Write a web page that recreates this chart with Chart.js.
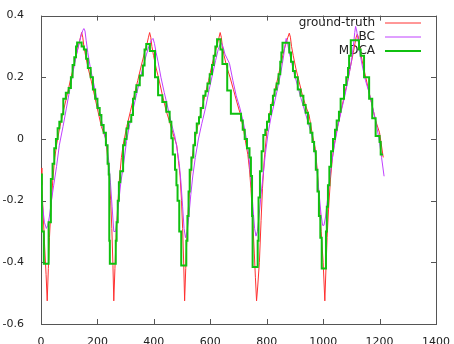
<!DOCTYPE html>
<html>
<head>
<meta charset="utf-8">
<script src="https://cdn.jsdelivr.net/npm/chart.js@4"></script>
<style>
body{margin:0;background:#fff}
canvas{display:block}
</style>
</head>
<body>
<canvas id="chart" width="454" height="344"></canvas>
<script>
// ground-truth
let gtX = [0,3,8,13,18,22,26,30,35,42,49,55,67,79,92,104,117,127,135,140,144,
148,152,158,167,179,191,203,214,230,236,242,247,251,255,258,
262,266,271,278,285,291,304,317,330,343,356,367,376,381,385,
389,393,399,408,420,432,444,456,467,481,487,493,498,502,506,509,
513,517,522,529,536,542,555,568,581,594,606,617,626,631,635,
639,643,649,658,670,682,694,705,718,727,733,739,744,750,756,760,764,
768,774,780,785,791,797,803,815,827,840,852,862,870,875,880,
884,888,894,903,915,927,939,950,962,972,979,986,993,1000,1006,
1010,1014,1019,1026,1033,1039,1051,1063,1075,1087,1098,1107,1113,1117,1121,
1125,1129,1135,1141,1151,1168,1186,1200,1213]
let gtY = [-0.094,-0.15,-0.25,-0.35,-0.44,-0.525,-0.42,-0.32,-0.23,-0.13,-0.06,-0.02,0.04,0.09,0.14,0.19,0.24,0.28,0.31,0.33,0.345,
0.33,0.30,0.27,0.23,0.185,0.135,0.085,0.04,0.0,-0.06,-0.12,-0.2,-0.29,-0.41,-0.525,
-0.42,-0.32,-0.23,-0.13,-0.06,-0.02,0.04,0.09,0.14,0.19,0.24,0.28,0.31,0.33,0.345,
0.33,0.30,0.27,0.23,0.185,0.135,0.09,0.055,0.02,-0.02,-0.07,-0.12,-0.2,-0.29,-0.41,-0.525,
-0.42,-0.32,-0.23,-0.13,-0.06,-0.02,0.04,0.09,0.14,0.19,0.24,0.28,0.31,0.33,0.345,
0.33,0.30,0.27,0.235,0.2,0.16,0.12,0.085,0.03,-0.02,-0.05,-0.1,-0.16,-0.255,-0.37,-0.45,-0.525,
-0.48,-0.4,-0.265,-0.16,-0.07,-0.01,0.05,0.1,0.15,0.2,0.25,0.29,0.315,0.33,0.343,
0.33,0.30,0.27,0.23,0.185,0.14,0.105,0.078,0.013,-0.03,-0.1,-0.2,-0.3,-0.4,-0.525,
-0.42,-0.32,-0.23,-0.13,-0.06,-0.02,0.04,0.09,0.14,0.19,0.24,0.28,0.31,0.33,0.34,
0.33,0.3,0.27,0.24,0.2,0.13,0.06,0.02,-0.06]

// BC
let bcX = [0,6,12,19,24,30,37,45,55,65,78,90,102,114,125,135,142,148,152,156,160,166,175,188,200,212,224,233,240,246,252,
258,264,270,276,283,291,303,314,326,338,350,362,374,384,391,397,402,408,415,425,437,450,462,474,482,490,496,502,507,
512,518,524,531,538,547,558,570,583,596,608,619,628,634,639,645,652,660,668,680,692,705,718,728,736,744,751,757,
762,767,773,780,787,795,805,815,828,840,851,860,865,869,874,880,888,898,910,922,935,948,960,970,978,985,992,998,
1003,1009,1015,1022,1030,1040,1052,1064,1077,1090,1100,1107,1112,1115,1119,1124,1130,1138,1150,1163,1176,1188,1198,1207,1216]
let bcY = [-0.16,-0.22,-0.27,-0.29,-0.28,-0.25,-0.2,-0.15,-0.09,-0.02,0.04,0.1,0.16,0.22,0.27,0.31,0.335,0.352,0.358,0.35,0.32,0.28,0.23,0.175,0.12,0.07,0.02,-0.02,-0.07,-0.14,-0.22,
-0.3,-0.3,-0.26,-0.2,-0.14,-0.094,-0.008,0.046,0.095,0.142,0.19,0.235,0.275,0.305,0.32,0.326,0.31,0.28,0.25,0.2,0.15,0.1,0.05,0.01,-0.03,-0.08,-0.14,-0.22,-0.29,
-0.32,-0.3,-0.25,-0.18,-0.12,-0.06,0.0,0.05,0.1,0.16,0.21,0.255,0.29,0.305,0.312,0.3,0.275,0.26,0.245,0.19,0.14,0.1,0.05,0.0,-0.05,-0.13,-0.22,-0.29,
-0.315,-0.3,-0.25,-0.18,-0.12,-0.05,0.02,0.07,0.12,0.17,0.22,0.27,0.305,0.326,0.31,0.28,0.25,0.21,0.17,0.13,0.09,0.05,0.01,-0.03,-0.1,-0.17,-0.24,-0.28,
-0.28,-0.25,-0.2,-0.14,-0.08,-0.02,0.04,0.09,0.14,0.2,0.25,0.3,0.345,0.365,0.35,0.32,0.28,0.24,0.19,0.15,0.1,0.05,0.0,-0.06,-0.121]

// MDCA (step values, each holds until the next x)
let mdcaX = [0,3,10,27,35,41,47,53,59,65,73,79,88,98,106,112,118,124,128,144,152,160,166,176,184,192,200,208,214,222,230,236,240,242,244,
265,268,272,276,281,291,297,303,309,320,326,332,338,350,361,367,373,386,404,415,430,444,456,462,467,475,480,484,490,497,
515,519,523,527,533,540,546,552,560,566,575,583,590,598,606,612,618,624,636,643,660,673,709,715,722,730,739,744,748,750,
768,771,776,782,788,795,801,808,815,822,828,835,842,848,852,856,880,886,893,900,910,920,930,938,946,955,962,968,974,980,985,990,995,
1010,1013,1017,1022,1028,1035,1042,1048,1056,1062,1074,1082,1088,1092,1098,1127,1133,1145,1163,1174,1186,1200,1204,1212]
let mdcaY = [-0.115,-0.3,-0.405,-0.27,-0.13,-0.08,-0.03,0.0,0.035,0.056,0.08,0.13,0.15,0.165,0.2,0.24,0.265,0.3,0.313,0.3,0.29,0.26,0.23,0.2,0.16,0.13,0.1,0.078,0.045,0.02,-0.02,-0.08,-0.115,-0.33,-0.405,
-0.33,-0.27,-0.2,-0.14,-0.105,-0.02,0.0,0.034,0.056,0.078,0.13,0.152,0.174,0.206,0.238,0.29,0.308,0.285,0.2,0.142,0.12,0.088,0.056,0.002,-0.05,-0.1,-0.15,-0.2,-0.3,-0.41,
-0.33,-0.25,-0.17,-0.1,-0.06,-0.02,0.02,0.05,0.07,0.1,0.14,0.155,0.18,0.21,0.24,0.27,0.3,0.323,0.29,0.243,0.157,0.082,0.06,0.03,0.0,-0.03,-0.06,-0.12,-0.25,-0.415,
-0.33,-0.19,-0.105,-0.04,0.013,0.03,0.056,0.08,0.11,0.14,0.16,0.18,0.21,0.25,0.28,0.312,0.28,0.25,0.22,0.2,0.16,0.14,0.11,0.085,0.05,0.02,-0.01,-0.04,-0.1,-0.17,-0.25,-0.32,-0.42,
-0.3,-0.22,-0.15,-0.09,-0.04,0.0,0.03,0.06,0.088,0.13,0.175,0.2,0.23,0.27,0.32,0.29,0.27,0.2,0.13,0.067,0.01,-0.01,-0.05,-0.05]

let seriesNames = ['ground-truth','BC','MDCA']
let seriesColors = ['#ff3030','#c040ff','#10c010']
let seriesWidths = [1,1,2]

let xTicks = [0,200,400,600,800,1000,1200,1400]
let yTicks = [-0.6,-0.4,-0.2,0,0.2,0.4]

function pts(xs,ys){
return xs.map((x,i)=>({x:x,y:ys[i]}))
}

/* gnuplot style frame, inward ticks and key */
const frame = {
id:'frame',
beforeDatasetsDraw(chart){
const {ctx,chartArea:a,scales:{x,y}} = chart
ctx.save()
ctx.strokeStyle = '#555'
ctx.lineWidth = 1
ctx.beginPath()
xTicks.forEach(v=>{
let px = Math.round(x.getPixelForValue(v))+0.5
ctx.moveTo(px,a.bottom); ctx.lineTo(px,a.bottom-5)
ctx.moveTo(px,a.top); ctx.lineTo(px,a.top+5)
})
yTicks.forEach(v=>{
let py = Math.round(y.getPixelForValue(v))+0.5
ctx.moveTo(a.left,py); ctx.lineTo(a.left+5,py)
ctx.moveTo(a.right,py); ctx.lineTo(a.right-5,py)
})
ctx.stroke()
ctx.strokeRect(Math.round(a.left)+0.5,Math.round(a.top)+0.5,Math.round(a.right-a.left),Math.round(a.bottom-a.top))

ctx.font = '12px "DejaVu Sans"'
ctx.textAlign = 'right'
ctx.textBaseline = 'middle'
seriesNames.forEach((name,i)=>{
let ky = 23+14*i
ctx.fillStyle = '#222'
ctx.fillText(name,375,ky)
ctx.beginPath()
ctx.strokeStyle = seriesColors[i]
ctx.lineWidth = seriesWidths[i]
ctx.moveTo(385,ky); ctx.lineTo(421,ky)
ctx.stroke()
})
ctx.restore()
}
}

new Chart(document.getElementById('chart'),{
type:'line',
data:{
datasets:[
{label:seriesNames[0],data:pts(gtX,gtY),borderColor:seriesColors[0],borderWidth:seriesWidths[0],order:3},
{label:seriesNames[1],data:pts(bcX,bcY),borderColor:seriesColors[1],borderWidth:seriesWidths[1],order:2},
{label:seriesNames[2],data:pts(mdcaX,mdcaY),borderColor:seriesColors[2],borderWidth:seriesWidths[2],stepped:true,order:1}
]
},
options:{
responsive:false,
animation:false,
parsing:false,
layout:{padding:{top:13,right:17,left:0,bottom:0}},
elements:{point:{radius:0},line:{tension:0}},
plugins:{legend:{display:false},tooltip:{enabled:false}},
scales:{
x:{
type:'linear',min:0,max:1400,
grid:{display:false},border:{display:false},
afterBuildTicks:s=>{s.ticks = xTicks.map(v=>({value:v}))},
afterFit:s=>{s.height = 20},
ticks:{padding:4,color:'#222',font:{family:'DejaVu Sans',size:11},callback:v=>String(v),maxRotation:0}
},
y:{
min:-0.6,max:0.4,
grid:{display:false},border:{display:false},
afterBuildTicks:s=>{s.ticks = yTicks.map(v=>({value:v}))},
afterFit:s=>{s.width = 41},
ticks:{padding:9,color:'#222',font:{family:'DejaVu Sans',size:11},callback:v=>String(Math.round(v*10)/10)}
}
}
},
plugins:[frame]
})
</script>
</body>
</html>
